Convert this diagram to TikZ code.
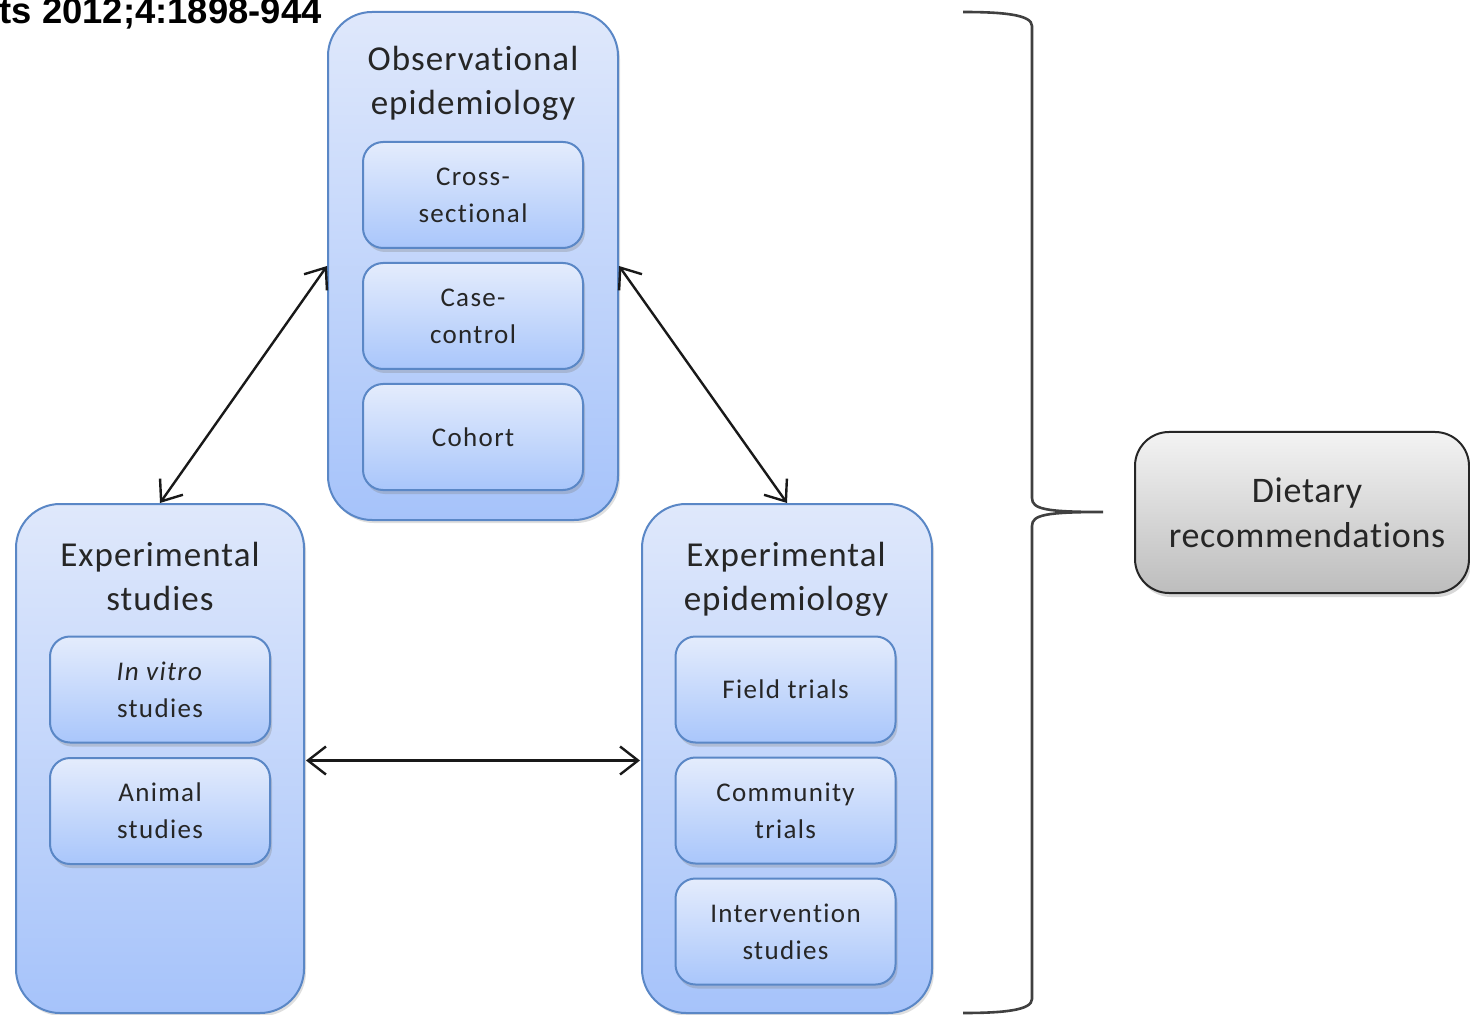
\documentclass[tikz,border=0pt]{standalone}
\usepackage{fontspec}
\setmainfont{Carlito}[RawFeature={-liga;-clig;-rlig;-dlig}]
\newfontfamily\headfont{Liberation Sans}
\newfontfamily\boxfont{Carlito}[LetterSpace=5,RawFeature={-liga;-clig;-rlig;-dlig}]
\newfontfamily\titlefont{Carlito}[LetterSpace=3,RawFeature={-liga;-clig;-rlig;-dlig}]
\newfontfamily\dietfont{Carlito}[LetterSpace=2,RawFeature={-liga;-clig;-rlig;-dlig}]
\usetikzlibrary{shadows,arrows.meta,calc}
\definecolor{bordblue}{HTML}{5A87C6}
\definecolor{bigtop}{HTML}{DFE8FB}
\definecolor{bigbot}{HTML}{A6C3FA}
\definecolor{intop}{HTML}{E4ECFC}
\definecolor{inbot}{HTML}{A9C6FB}
\definecolor{graytop}{HTML}{F3F3F3}
\definecolor{graybot}{HTML}{BDBDBD}
\definecolor{txt}{HTML}{262626}
\tikzset{
  bigbox/.style={draw=bordblue, line width=1pt, rounded corners=22pt,
    top color=bigtop, bottom color=bigbot,
    drop shadow={opacity=0.25, shadow xshift=1pt, shadow yshift=-1.5pt}},
  inbox/.style={draw=bordblue, line width=1pt, rounded corners=10pt,
    top color=intop, bottom color=inbot, minimum width=110pt, minimum height=53pt,
    align=center, text=txt, font=\boxfont\fontsize{13.5pt}{18.5pt}\selectfont,
    drop shadow={opacity=0.3, shadow xshift=1pt, shadow yshift=-2pt}},
  title/.style={align=center, text=txt, font=\titlefont\fontsize{17.5pt}{22pt}\selectfont},
  dietbox/.style={draw=black!85, line width=1pt, rounded corners=17pt,
    top color=graytop, bottom color=graybot, minimum width=167pt, minimum height=80.5pt,
    drop shadow={opacity=0.3, shadow xshift=1pt, shadow yshift=-2pt}},
  diettext/.style={align=center, text=txt, font=\dietfont\fontsize{18pt}{22.5pt}\selectfont},
  arr/.style={{Straight Barb[length=9pt,width=14pt]}-{Straight Barb[length=9pt,width=14pt]}, line width=1.2pt, draw=black!90},
  bracel/.style={line width=1.3pt, draw=black!75}
}
\begin{document}
\begin{tikzpicture}[x=0.5pt,y=-0.5pt]
\useasboundingbox (0,0) rectangle (1470,1015);
\fill[white] (0,0) rectangle (1470,1015);

% header text (cropped at the edges as in the source)
\node[anchor=base east, inner sep=0pt, font=\headfont\bfseries\fontsize{18.2pt}{19pt}\selectfont] (ref) at (322,24) {ts 2012;4:1898-944};

% big boxes
\node[bigbox, minimum width=145pt, minimum height=254pt] (obs) at (473,266) {};
\node[bigbox, minimum width=144pt, minimum height=254.5pt] (exs) at (160,758.5) {};
\node[bigbox, minimum width=145pt, minimum height=254.5pt] (exe) at (787,758.5) {};

% titles
\node[title] (obst) at (473,83) {Observational\\epidemiology};
\node[title] (exst) at (160,576) {Experimental\\studies};
\node[title] (exet) at (786,579) {Experimental\\epidemiology};

% inner boxes
\node[inbox] (cs) at (473,195) {Cross-\\sectional};
\node[inbox] (cc) at (473,316) {Case-\\control};
\node[inbox] (co) at (473,437) {Cohort};
\node[inbox] (iv) at (160,689.5) {\textit{In vitro}\\studies};
\node[inbox] (an) at (160,811) {Animal\\studies};
\node[inbox] (ft) at (785.5,689.5) {Field trials};
\node[inbox] (ct) at (785.5,810.5) {Community\\trials};
\node[inbox] (is) at (785.5,931.5) {Intervention\\studies};

% arrows
\draw[arr] (obs.west) -- (exs.north);
\draw[arr] (obs.east) -- (exe.north);
\draw[arr] ($(exs.east)+(1,2)$) -- ($(exe.west)+(-1,2)$);

% dietary box
\node[dietbox] (diet) at (1302,512.5) {};
\node[diettext] (diett) at (1307,512.5) {Dietary\\recommendations};

% brace
\coordinate (bt) at (963,12);
\coordinate (bb) at (963,1013);
\coordinate (bp) at (1103,512);
\draw[bracel] (bt) .. controls (1005,12) and (1032,15) .. (1032,26)
  -- (1032,498) .. controls (1032,509) and (1045,512) .. (bp)
  .. controls (1045,512) and (1032,515) .. (1032,526)
  -- (1032,999) .. controls (1032,1010) and (1005,1013) .. (bb);
\end{tikzpicture}
\end{document}
